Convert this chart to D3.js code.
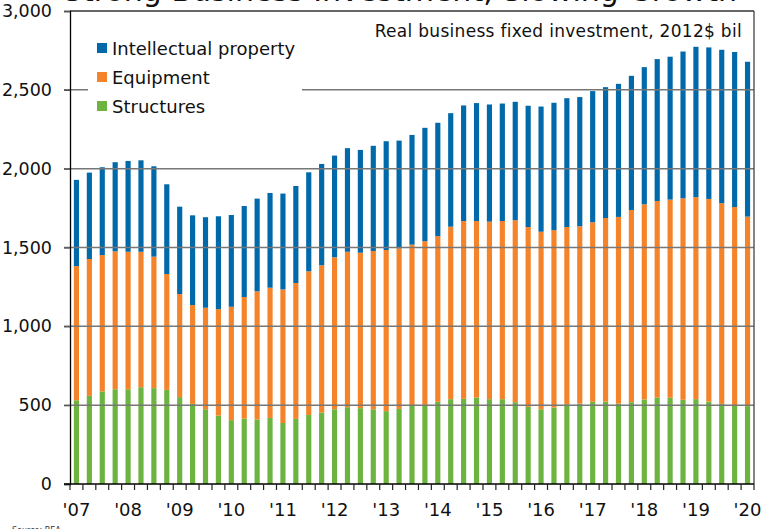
<!DOCTYPE html>
<html><head><meta charset="utf-8">
<script src="https://cdn.jsdelivr.net/npm/d3@7"></script>
<style>body{margin:0;background:#fff}svg{display:block}text{font-family:"DejaVu Sans",Verdana,sans-serif}</style>
</head><body>
<svg id="c" width="776" height="529"></svg>
<script>
const quarters = d3.range(53).map(i => (2007 + Math.floor(i/4)) + "Q" + (i%4+1));
const yearLabels = ["'07","'08","'09","'10","'11","'12","'13","'14","'15","'16","'17","'18","'19","'20"];
const structures = [531,559,587,601,601,614,608,597,551,508,474,434,405,415,409,419,387,413,438,453,474,487,481,474,462,476,498,502,521,538,540,549,538,538,519,489,474,485,506,510,521,523,510,519,536,549,547,534,538,523,508,498,494];
const equipment = [851,868,865,875,872,859,834,735,654,627,644,675,719,771,813,826,847,862,911,934,964,986,986,1004,1022,1019,1020,1038,1051,1094,1128,1119,1126,1130,1154,1141,1126,1125,1124,1125,1139,1164,1184,1219,1238,1246,1257,1278,1281,1285,1273,1259,1202];
const intellectual = [547,548,557,565,576,580,573,569,554,569,574,589,582,577,588,601,608,615,628,643,645,657,652,667,690,683,696,719,719,720,733,748,743,745,751,769,794,808,817,819,832,830,844,851,870,900,906,931,954,961,973,983,982];
const seriesNames = ["Structures","Equipment","Intellectual property"];
const colors = {"Structures":"#6db33f","Equipment":"#f5832a","Intellectual property":"#0069aa"};
const yTicks = [0,500,1000,1500,2000,2500,3000];

const svg = d3.select("#c");
const L = 70, R = 754, T = 11, B = 484;
const x = d3.scaleBand().domain(quarters).range([L, R]).paddingInner(0.6).paddingOuter(0.3);
const y = d3.scaleLinear().domain([0, 3000]).range([B, T]);

// cropped title at top (only its lower edge shows)
svg.append("text").attr("x", 400).attr("y", 1).attr("text-anchor","middle")
  .attr("font-size", 30).attr("fill","#111")
  .text("Strong Business Investment, Slowing Growth");

const rows = quarters.map((q,i) => ({q, "Structures":structures[i], "Equipment":equipment[i], "Intellectual property":intellectual[i]}));
const stack = d3.stack().keys(seriesNames)(rows);
svg.append("g").selectAll("g").data(stack).join("g").attr("fill", d => colors[d.key])
  .selectAll("rect").data(d => d).join("rect")
  .attr("x", d => x(d.data.q)).attr("width", x.bandwidth())
  .attr("y", d => y(d[1])).attr("height", d => y(d[0]) - y(d[1]));

const legendItems = ["Intellectual property","Equipment","Structures"];

// gridlines on top of bars
svg.append("g").selectAll("line").data(yTicks.filter(v => v > 0 && v < 3000)).join("line")
  .attr("x1", L - 6).attr("x2", R).attr("y1", d => y(d)).attr("y2", d => y(d))
  .attr("stroke", "#777").attr("stroke-width", 1.5);

svg.append("rect").attr("x", 88).attr("y", 36).attr("width", 214).attr("height", 82).attr("fill","#fff");
const lg = svg.append("g").selectAll("g").data(legendItems).join("g")
  .attr("transform", (d,i) => `translate(97,${43 + i*29})`);
lg.append("rect").attr("width", 10).attr("height", 10).attr("fill", d => colors[d]);
lg.append("text").attr("x", 15).attr("y", 11.5).attr("font-size", 18).attr("fill","#111").text(d => d);

// frame
svg.append("line").attr("x1", L).attr("x2", R).attr("y1", T).attr("y2", T).attr("stroke","#333").attr("stroke-width",1.3);
svg.append("line").attr("x1", R).attr("x2", R).attr("y1", T).attr("y2", B).attr("stroke","#444").attr("stroke-width",1.3);

// y axis
const ya = svg.append("g").attr("transform", `translate(${L},0)`)
  .call(d3.axisLeft(y).tickValues(yTicks).tickFormat(d3.format(",")).tickSize(6).tickPadding(12));
ya.select(".domain").attr("stroke","#000").attr("stroke-width",1.3);
ya.selectAll(".tick line").attr("stroke","#555").attr("stroke-width",1.3);
ya.selectAll("text").attr("font-size", 17.5).attr("fill","#111").attr("font-family",'"DejaVu Sans",Verdana,sans-serif');

// x axis
const xa = svg.append("g").attr("transform", `translate(0,${B})`);
xa.append("line").attr("x1", L - 6).attr("x2", R).attr("stroke","#000").attr("stroke-width",1.3);
xa.selectAll("line.t").data(d3.range(quarters.length + 1)).join("line").attr("class","t")
  .attr("x1", k => L + x.step()*k).attr("x2", k => L + x.step()*k).attr("y1", 0).attr("y2", 6)
  .attr("stroke","#222").attr("stroke-width",1.2);
xa.selectAll("text").data(yearLabels).join("text")
  .attr("x", (d,i) => x(quarters[i*4]) + x.bandwidth()/2).attr("y", 32)
  .attr("text-anchor","middle").attr("font-size", 18).attr("fill","#111").text(d => d);

// subtitle
svg.append("text").attr("x", 742).attr("y", 37).attr("text-anchor","end").attr("font-size", 17).attr("letter-spacing", 0.3).attr("fill","#111")
  .text("Real business fixed investment, 2012$ bil");

// source
svg.append("text").attr("x", 12).attr("y", 533).attr("font-size", 8).attr("fill","#333").text("Source: BEA");
</script>
</body></html>
